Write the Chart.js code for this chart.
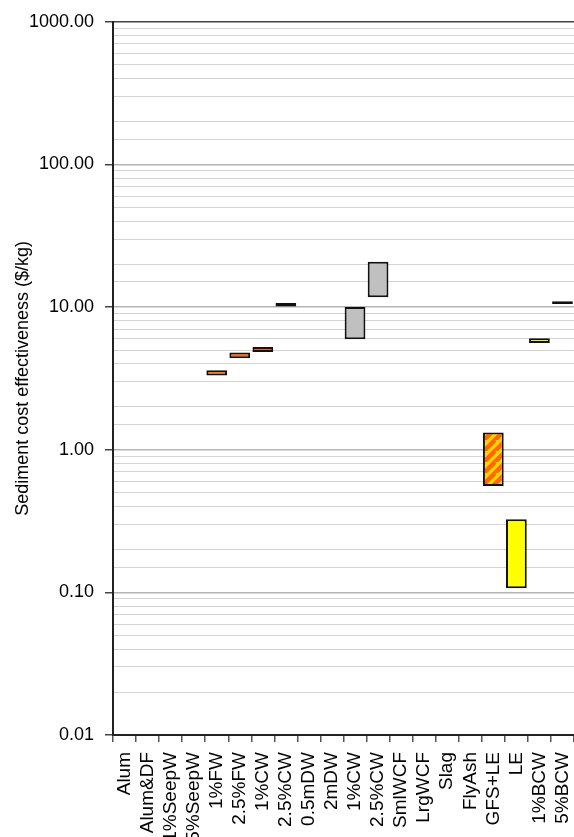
<!DOCTYPE html>
<html>
<head>
<meta charset="utf-8">
<script src="https://cdn.jsdelivr.net/npm/chart.js@4/dist/chart.umd.min.js"></script>
<style>
  html, body { margin: 0; padding: 0; background: #fff; }
  canvas { display: block; }
</style>
</head>
<body>
<canvas id="chart" width="574" height="837"></canvas>
<script>
const categories = ['Alum', 'Alum&DF', '1%SeepW', '5%SeepW', '1%FW', '2.5%FW', '1%CW', '2.5%CW', '0.5mDW', '2mDW',
        '1%CW', '2.5%CW', 'SmlWCF', 'LrgWCF', 'Slag', 'FlyAsh', 'GFS+LE', 'LE', '1%BCW', '5%BCW']
// low / high cost effectiveness ($/kg), null = no bar
const lowValues = [null, null, null, null, 3.32, 4.38, 4.85, 10.1, null, null,
        5.95, 11.7, null, null, null, null, 0.557, 0.107, 5.6, 10.5]
const highValues = [null, null, null, null, 3.6, 4.8, 5.25, 10.7, null, null,
        10.0, 20.8, null, null, null, null, 1.32, 0.325, 6.05, 11.0]
const barKinds = ['', '', '', '', 'orange', 'orange', 'orange', 'black', '', '',
        'gray', 'gray', '', '', '', '', 'hatch', 'yellow', 'yellow', 'black']
const yMin = 0.01
const yMax = 1000

function makeHatch() {
        const c = document.createElement('canvas')
        c.width = 11
        c.height = 11
        const g = c.getContext('2d')
        g.fillStyle = '#FFD700'
        g.fillRect(0, 0, 11, 11)
        g.strokeStyle = '#FF6600'
        g.lineWidth = 4.5
        g.beginPath()
        for (let k = -11; k <= 22; k += 11) {
                g.moveTo(k - 11, 22)
                g.lineTo(k + 11, 0)
        }
        g.stroke()
        return g.createPattern(c, 'repeat')
}

const ctx = document.getElementById('chart').getContext('2d')
const hatch = makeHatch()
const fills = { orange: '#FF6600', black: '#000000', gray: '#C0C0C0', yellow: '#FFFF00', hatch: hatch, '': 'rgba(0,0,0,0)' }

const barData = categories.map((c, i) => lowValues[i] === null ? null : [lowValues[i], highValues[i]])

const isDecade = v => Math.abs(Math.log10(v) - Math.round(Math.log10(v))) < 1e-6

new Chart(ctx, {
        type: 'bar',
        data: {
                labels: categories,
                datasets: [{
                        data: barData,
                        backgroundColor: barKinds.map(k => fills[k]),
                        borderColor: '#111',
                        borderWidth: 2,
                        borderSkipped: false,
                        barPercentage: 0.9,
                        categoryPercentage: 1.0
                }]
        },
        options: {
                responsive: false,
                animation: false,
                layout: { padding: { top: 20, right: 0, left: 0, bottom: 0 } },
                plugins: {
                        legend: { display: false },
                        tooltip: { enabled: false }
                },
                scales: {
                        x: {
                                afterFit: s => {
                                        s.height = 102
                                        s.paddingRight = 0
                                        s.paddingLeft = 0
                                },
                                grid: {
                                        offset: true,
                                        drawOnChartArea: false,
                                        tickLength: 7,
                                        color: '#555',
                                        lineWidth: 1.5
                                },
                                border: { color: '#222', width: 2 },
                                ticks: {
                                        autoSkip: false,
                                        maxRotation: 90,
                                        minRotation: 90,
                                        padding: 10,
                                        color: '#000',
                                        font: { family: 'Liberation Sans, Arial', size: 19 }
                                }
                        },
                        y: {
                                type: 'logarithmic',
                                min: yMin,
                                max: yMax,
                                afterFit: s => { s.width = 113 },
                                title: {
                                        display: true,
                                        text: 'Sediment cost effectiveness ($/kg)',
                                        color: '#000',
                                        font: { family: 'Liberation Sans, Arial', size: 18 },
                                        padding: { top: 12, bottom: 0 }
                                },
                                grid: {
                                        color: c => c.tick && c.tick.value === yMax ? '#444' : (isDecade(c.tick.value) ? '#b4b4b4' : '#d4d4d4'),
                                        lineWidth: c => c.tick && c.tick.value === yMax ? 1.5 : (isDecade(c.tick.value) ? 1.5 : 1),
                                        tickColor: c => isDecade(c.tick.value) ? '#444' : 'rgba(0,0,0,0)',
                                        tickLength: 8
                                },
                                border: { color: '#222', width: 2 },
                                ticks: {
                                        autoSkip: false,
                                        padding: 11,
                                        color: '#000',
                                        font: { family: 'Liberation Sans, Arial', size: 18 },
                                        callback: v => isDecade(v) ? Number(v).toFixed(2) : ''
                                }
                        }
                }
        }
})
</script>
</body>
</html>
